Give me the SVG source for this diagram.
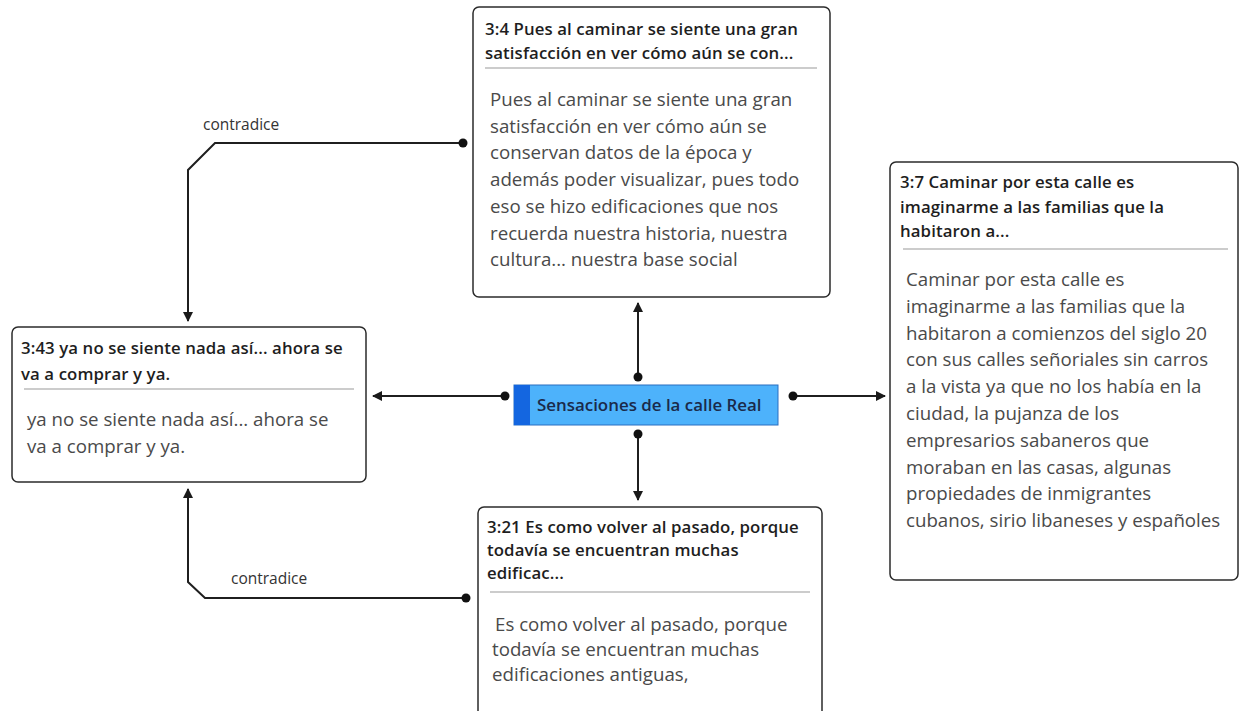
<svg xmlns="http://www.w3.org/2000/svg" width="1239" height="711" viewBox="0 0 1239 711">
<defs>
<marker id="arr" viewBox="0 0 10 10" refX="9" refY="5" markerWidth="10" markerHeight="10" markerUnits="userSpaceOnUse" orient="auto"><path d="M0,0 L10,5 L0,10 z" fill="#1a1a1a"/></marker>
<marker id="dot" viewBox="0 0 10 10" refX="5" refY="5" markerWidth="10" markerHeight="10" markerUnits="userSpaceOnUse"><circle cx="5" cy="5" r="4.5" fill="#111"/></marker>
</defs>
<style>
.box{fill:#fff;stroke:#2b2b2b;stroke-width:1.5}
.sep{stroke:#9a9a9a;stroke-width:1.2}
.ttl{font-family:"Open Sans","Noto Sans",sans-serif;font-size:16.8px;font-weight:600;letter-spacing:0.1px;fill:#1e1e1e}
.bd{font-family:"Open Sans","Noto Sans",sans-serif;font-size:18.7px;fill:#4a4a4a}
.lbl{font-family:"Open Sans","Noto Sans",sans-serif;font-size:15.5px;fill:#333}
.cn{fill:none;stroke:#1f1f1f;stroke-width:2;marker-start:url(#dot);marker-end:url(#arr)}
</style>
<rect width="1239" height="711" fill="#fff"/>
<g id="connectors">
<path class="cn" d="M638,377 L638,303"/>
<path class="cn" d="M638,434 L638,500"/>
<path class="cn" d="M505,396 L373,396"/>
<path class="cn" d="M793,396 L885,396"/>
<path class="cn" d="M463,143 L215,143 L188,170 L188,321"/>
<path class="cn" d="M466,598 L205,598 L188,582 L188,489"/>
<text class="lbl" x="203" y="130">contradice</text>
<text class="lbl" x="231" y="584">contradice</text>
</g>
<g id="center">
<rect x="514" y="385" width="264" height="40" fill="#4db2fb" stroke="#2a6fc0" stroke-width="1"/>
<rect x="514" y="385" width="16" height="40" fill="#1466e0"/>
<text x="537" y="411" font-family="'Open Sans','Noto Sans',sans-serif" font-size="16.9px" font-weight="600" fill="#1a2a4a">Sensaciones de la calle Real</text>
</g>
<g id="n34">
<rect class="box" x="473" y="7" width="357" height="290" rx="6"/>
<text class="ttl" x="485" y="35">3:4 Pues al caminar se siente una gran</text>
<text class="ttl" x="485" y="59">satisfacción en ver cómo aún se con...</text>
<line class="sep" x1="485" y1="68" x2="817" y2="68"/>
<text class="bd"><tspan x="490" y="106">Pues al caminar se siente una gran</tspan><tspan x="490" y="132.7">satisfacción en ver cómo aún se</tspan><tspan x="490" y="159.4">conservan datos de la época y</tspan><tspan x="490" y="186.1">además poder visualizar, pues todo</tspan><tspan x="490" y="212.8">eso se hizo edificaciones que nos</tspan><tspan x="490" y="239.5">recuerda nuestra historia, nuestra</tspan><tspan x="490" y="266.2">cultura... nuestra base social</tspan></text>
</g>
<g id="n37">
<rect class="box" x="890" y="162" width="348" height="418" rx="6"/>
<text class="ttl" x="900" y="188">3:7 Caminar por esta calle es</text>
<text class="ttl" x="900" y="213">imaginarme a las familias que la</text>
<text class="ttl" x="900" y="237">habitaron a...</text>
<line class="sep" x1="903" y1="249" x2="1228" y2="249"/>
<text class="bd"><tspan x="906" y="286">Caminar por esta calle es</tspan><tspan x="906" y="312.8">imaginarme a las familias que la</tspan><tspan x="906" y="339.6">habitaron a comienzos del siglo 20</tspan><tspan x="906" y="366.4">con sus calles señoriales sin carros</tspan><tspan x="906" y="393.2">a la vista ya que no los había en la</tspan><tspan x="906" y="420">ciudad, la pujanza de los</tspan><tspan x="906" y="446.8">empresarios sabaneros que</tspan><tspan x="906" y="473.6">moraban en las casas, algunas</tspan><tspan x="906" y="500.4">propiedades de inmigrantes</tspan><tspan x="906" y="527.2">cubanos, sirio libaneses y españoles</tspan></text>
</g>
<g id="n343">
<rect class="box" x="12" y="327" width="354" height="155" rx="6"/>
<text class="ttl" x="21" y="354">3:43 ya no se siente nada así... ahora se</text>
<text class="ttl" x="21" y="380">va a comprar y ya.</text>
<line class="sep" x1="24" y1="389" x2="354" y2="389"/>
<text class="bd"><tspan x="27" y="426">ya no se siente nada así... ahora se</tspan><tspan x="27" y="453">va a comprar y ya.</tspan></text>
</g>
<g id="n321">
<rect class="box" x="478" y="507" width="344" height="220" rx="6"/>
<text class="ttl" x="487" y="533">3:21 Es como volver al pasado, porque</text>
<text class="ttl" x="487" y="556">todavía se encuentran muchas</text>
<text class="ttl" x="487" y="579">edificac...</text>
<line class="sep" x1="490" y1="592" x2="810" y2="592"/>
<text class="bd"><tspan x="495" y="631">Es como volver al pasado, porque</tspan><tspan x="492" y="656">todavía se encuentran muchas</tspan><tspan x="492" y="681">edificaciones antiguas,</tspan></text>
</g>
</svg>
